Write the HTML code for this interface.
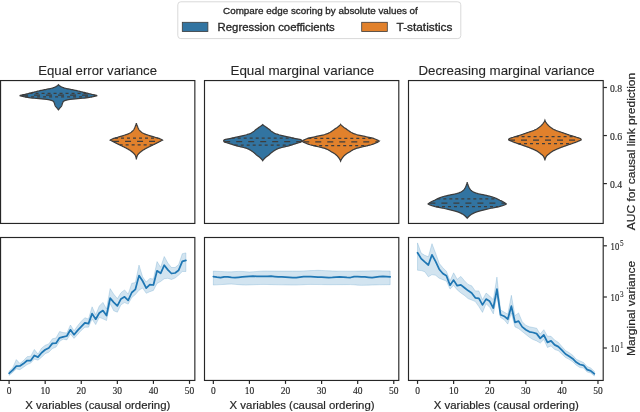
<!DOCTYPE html>
<html><head><meta charset="utf-8"><style>
html,body{margin:0;padding:0;background:#fff;}
svg{display:block;will-change:transform;}
text{font-family:"Liberation Sans",sans-serif;fill:#262626;stroke:#262626;stroke-width:0.3px;}
.tk{font-family:"Liberation Serif",serif;font-size:10.4px;stroke-width:0.15px;}
.sup{font-family:"Liberation Serif",serif;font-size:7.2px;stroke-width:0.1px;}
.ttl{font-size:13px;stroke-width:0.1px;}
.lab{font-size:11.4px;stroke-width:0.2px;}
.lt{font-size:9.5px;}
.ll{font-size:10.5px;}
</style></head><body>
<svg width="640" height="412" viewBox="0 0 640 412">
<path d="M58.44 84.75 L58.61 84.93 L58.79 85.12 L59 85.3 L59.23 85.49 L59.47 85.67 L59.73 85.85 L60 86.04 L60.28 86.22 L60.58 86.41 L60.91 86.59 L61.25 86.77 L61.63 86.96 L62.03 87.14 L62.46 87.32 L62.91 87.51 L63.42 87.69 L63.99 87.88 L64.61 88.06 L65.28 88.24 L66 88.43 L66.77 88.61 L67.66 88.8 L68.61 88.98 L69.56 89.16 L70.47 89.35 L71.39 89.53 L72.32 89.72 L73.24 89.9 L74.15 90.08 L75.05 90.27 L75.91 90.45 L76.74 90.63 L77.54 90.82 L78.32 91 L79.07 91.19 L79.81 91.37 L80.53 91.55 L81.26 91.74 L81.98 91.92 L82.71 92.11 L83.45 92.29 L84.19 92.47 L84.94 92.66 L85.68 92.84 L86.41 93.03 L87.16 93.21 L87.9 93.39 L88.65 93.58 L89.4 93.76 L90.16 93.94 L90.93 94.13 L91.7 94.31 L92.48 94.5 L93.26 94.68 L94.05 94.86 L94.84 95.05 L95.63 95.23 L96.44 95.42 L97.24 95.6 L96.37 95.84 L95.4 96.08 L94.33 96.32 L93.18 96.56 L91.97 96.8 L90.69 97.04 L89.36 97.28 L87.91 97.53 L86.33 97.77 L84.6 98.01 L82.67 98.25 L80.35 98.49 L77.84 98.73 L75.29 98.97 L72.48 99.21 L70.1 99.45 L68.56 99.69 L67.34 99.93 L66.38 100.17 L65.57 100.41 L64.81 100.65 L64.18 100.89 L63.73 101.14 L63.47 101.38 L63.28 101.62 L63.12 101.86 L62.99 102.1 L62.88 102.34 L62.78 102.58 L62.68 102.82 L62.59 103.06 L62.49 103.3 L62.39 103.54 L62.3 103.78 L62.22 104.02 L62.15 104.26 L62.08 104.51 L62 104.75 L61.93 104.99 L61.85 105.23 L61.77 105.47 L61.67 105.71 L61.56 105.95 L61.44 106.19 L61.28 106.43 L61.1 106.67 L60.89 106.91 L60.67 107.15 L60.44 107.39 L60.21 107.63 L59.98 107.87 L59.78 108.12 L59.58 108.36 L59.39 108.6 L59.19 108.84 L59 109.08 L58.81 109.32 L58.63 109.56 L58.44 109.8 L58.44 109.8 L58.25 109.56 L58.07 109.32 L57.88 109.08 L57.69 108.84 L57.49 108.6 L57.3 108.36 L57.1 108.12 L56.9 107.87 L56.67 107.63 L56.44 107.39 L56.21 107.15 L55.99 106.91 L55.78 106.67 L55.6 106.43 L55.44 106.19 L55.32 105.95 L55.21 105.71 L55.11 105.47 L55.03 105.23 L54.95 104.99 L54.88 104.75 L54.8 104.51 L54.73 104.26 L54.66 104.02 L54.58 103.78 L54.49 103.54 L54.39 103.3 L54.29 103.06 L54.2 102.82 L54.1 102.58 L54 102.34 L53.89 102.1 L53.76 101.86 L53.6 101.62 L53.41 101.38 L53.15 101.14 L52.7 100.89 L52.07 100.65 L51.31 100.41 L50.5 100.17 L49.54 99.93 L48.32 99.69 L46.78 99.45 L44.4 99.21 L41.59 98.97 L39.04 98.73 L36.53 98.49 L34.21 98.25 L32.28 98.01 L30.55 97.77 L28.97 97.53 L27.52 97.28 L26.19 97.04 L24.91 96.8 L23.7 96.56 L22.55 96.32 L21.48 96.08 L20.51 95.84 L19.64 95.6 L20.44 95.42 L21.25 95.23 L22.04 95.05 L22.83 94.86 L23.62 94.68 L24.4 94.5 L25.18 94.31 L25.95 94.13 L26.72 93.94 L27.48 93.76 L28.23 93.58 L28.98 93.39 L29.72 93.21 L30.47 93.03 L31.2 92.84 L31.94 92.66 L32.69 92.47 L33.43 92.29 L34.17 92.11 L34.9 91.92 L35.62 91.74 L36.35 91.55 L37.07 91.37 L37.81 91.19 L38.56 91 L39.34 90.82 L40.14 90.63 L40.97 90.45 L41.83 90.27 L42.73 90.08 L43.64 89.9 L44.56 89.72 L45.49 89.53 L46.41 89.35 L47.32 89.16 L48.27 88.98 L49.22 88.8 L50.11 88.61 L50.88 88.43 L51.6 88.24 L52.27 88.06 L52.89 87.88 L53.46 87.69 L53.97 87.51 L54.42 87.32 L54.85 87.14 L55.25 86.96 L55.63 86.77 L55.97 86.59 L56.3 86.41 L56.6 86.22 L56.88 86.04 L57.15 85.85 L57.41 85.67 L57.65 85.49 L57.88 85.3 L58.09 85.12 L58.27 84.93 L58.44 84.75Z" fill="#3274a1" stroke="#3d3d3d" stroke-width="1.25" stroke-linejoin="miter" stroke-miterlimit="3"/>
<line x1="29.56" y1="93.3" x2="87.32" y2="93.3" stroke="#3d3d3d" stroke-width="1.25" stroke-dasharray="3 3"/>
<line x1="22.02" y1="95.1" x2="94.86" y2="95.1" stroke="#3d3d3d" stroke-width="1.25" stroke-dasharray="6 6"/>
<line x1="25.09" y1="96.8" x2="91.79" y2="96.8" stroke="#3d3d3d" stroke-width="1.25" stroke-dasharray="3 3"/>
<path d="M136.37 123.3 L136.46 123.58 L136.55 123.87 L136.64 124.15 L136.74 124.44 L136.84 124.72 L136.94 125.01 L137.05 125.29 L137.16 125.58 L137.27 125.86 L137.38 126.15 L137.5 126.43 L137.62 126.72 L137.74 127 L137.85 127.29 L137.97 127.57 L138.09 127.86 L138.22 128.14 L138.35 128.43 L138.5 128.71 L138.65 128.99 L138.81 129.28 L138.98 129.56 L139.17 129.85 L139.38 130.13 L139.62 130.42 L139.88 130.7 L140.16 130.99 L140.46 131.27 L140.78 131.56 L141.12 131.84 L141.48 132.13 L141.86 132.41 L142.29 132.7 L142.77 132.98 L143.29 133.27 L143.86 133.55 L144.47 133.84 L145.18 134.12 L145.96 134.41 L146.79 134.69 L147.66 134.97 L148.54 135.26 L149.4 135.54 L150.27 135.83 L151.17 136.11 L152.08 136.4 L153 136.68 L153.94 136.97 L154.89 137.25 L155.91 137.54 L156.96 137.82 L157.98 138.11 L158.89 138.39 L159.66 138.68 L160.35 138.96 L160.98 139.25 L161.55 139.53 L162.05 139.82 L162.47 140.1 L161.84 140.43 L161.21 140.76 L160.58 141.09 L159.95 141.42 L159.31 141.75 L158.67 142.08 L158.03 142.41 L157.38 142.74 L156.73 143.07 L156.07 143.41 L155.42 143.74 L154.75 144.07 L154.09 144.4 L153.42 144.73 L152.76 145.06 L152.09 145.39 L151.43 145.72 L150.76 146.05 L150.09 146.38 L149.41 146.71 L148.72 147.04 L148.05 147.37 L147.38 147.7 L146.73 148.03 L146.11 148.36 L145.5 148.69 L144.91 149.02 L144.34 149.35 L143.78 149.68 L143.25 150.02 L142.75 150.35 L142.28 150.68 L141.82 151.01 L141.38 151.34 L140.96 151.67 L140.55 152 L140.17 152.33 L139.81 152.66 L139.46 152.99 L139.11 153.32 L138.76 153.65 L138.43 153.98 L138.13 154.31 L137.86 154.64 L137.64 154.97 L137.47 155.3 L137.33 155.63 L137.2 155.96 L137.08 156.29 L136.96 156.63 L136.85 156.96 L136.74 157.29 L136.65 157.62 L136.57 157.95 L136.5 158.28 L136.45 158.61 L136.4 158.94 L136.38 159.27 L136.37 159.6 L136.37 159.6 L136.36 159.27 L136.34 158.94 L136.29 158.61 L136.24 158.28 L136.17 157.95 L136.09 157.62 L136 157.29 L135.89 156.96 L135.78 156.63 L135.66 156.29 L135.54 155.96 L135.41 155.63 L135.27 155.3 L135.1 154.97 L134.88 154.64 L134.61 154.31 L134.31 153.98 L133.98 153.65 L133.63 153.32 L133.28 152.99 L132.93 152.66 L132.57 152.33 L132.19 152 L131.78 151.67 L131.36 151.34 L130.92 151.01 L130.46 150.68 L129.99 150.35 L129.49 150.02 L128.96 149.68 L128.4 149.35 L127.83 149.02 L127.24 148.69 L126.63 148.36 L126.01 148.03 L125.36 147.7 L124.69 147.37 L124.02 147.04 L123.33 146.71 L122.65 146.38 L121.98 146.05 L121.31 145.72 L120.65 145.39 L119.98 145.06 L119.32 144.73 L118.65 144.4 L117.99 144.07 L117.32 143.74 L116.67 143.41 L116.01 143.07 L115.36 142.74 L114.71 142.41 L114.07 142.08 L113.43 141.75 L112.79 141.42 L112.16 141.09 L111.53 140.76 L110.9 140.43 L110.27 140.1 L110.69 139.82 L111.19 139.53 L111.76 139.25 L112.39 138.96 L113.08 138.68 L113.85 138.39 L114.76 138.11 L115.78 137.82 L116.83 137.54 L117.85 137.25 L118.8 136.97 L119.74 136.68 L120.66 136.4 L121.57 136.11 L122.47 135.83 L123.34 135.54 L124.2 135.26 L125.08 134.97 L125.95 134.69 L126.78 134.41 L127.56 134.12 L128.27 133.84 L128.88 133.55 L129.45 133.27 L129.97 132.98 L130.45 132.7 L130.88 132.41 L131.26 132.13 L131.62 131.84 L131.96 131.56 L132.28 131.27 L132.58 130.99 L132.86 130.7 L133.12 130.42 L133.36 130.13 L133.57 129.85 L133.76 129.56 L133.93 129.28 L134.09 128.99 L134.24 128.71 L134.39 128.43 L134.52 128.14 L134.65 127.86 L134.77 127.57 L134.89 127.29 L135 127 L135.12 126.72 L135.24 126.43 L135.36 126.15 L135.47 125.86 L135.58 125.58 L135.69 125.29 L135.8 125.01 L135.9 124.72 L136 124.44 L136.1 124.15 L136.19 123.87 L136.28 123.58 L136.37 123.3Z" fill="#e1812c" stroke="#3d3d3d" stroke-width="1.25" stroke-linejoin="miter" stroke-miterlimit="3"/>
<line x1="114.99" y1="138.1" x2="157.75" y2="138.1" stroke="#3d3d3d" stroke-width="1.25" stroke-dasharray="3 3"/>
<line x1="113.05" y1="141.45" x2="159.69" y2="141.45" stroke="#3d3d3d" stroke-width="1.25" stroke-dasharray="6 6"/>
<line x1="119.66" y1="144.8" x2="153.08" y2="144.8" stroke="#3d3d3d" stroke-width="1.25" stroke-dasharray="3 3"/>
<path d="M262.7 124.6 L263.04 124.87 L263.39 125.15 L263.74 125.42 L264.09 125.69 L264.45 125.97 L264.82 126.24 L265.19 126.52 L265.56 126.79 L265.95 127.06 L266.35 127.34 L266.75 127.61 L267.16 127.88 L267.56 128.16 L267.96 128.43 L268.34 128.71 L268.7 128.98 L269.05 129.25 L269.39 129.53 L269.71 129.8 L270.02 130.07 L270.34 130.35 L270.67 130.62 L271 130.9 L271.35 131.17 L271.72 131.44 L272.11 131.72 L272.5 131.99 L272.9 132.26 L273.32 132.54 L273.77 132.81 L274.26 133.09 L274.8 133.36 L275.41 133.63 L276.15 133.91 L277 134.18 L277.9 134.45 L278.85 134.73 L279.89 135 L280.99 135.28 L282.1 135.55 L283.21 135.82 L284.33 136.1 L285.48 136.37 L286.64 136.64 L287.84 136.92 L289.07 137.19 L290.37 137.47 L291.7 137.74 L293.02 138.01 L294.29 138.29 L295.55 138.56 L296.95 138.83 L298.39 139.11 L299.7 139.38 L300.73 139.66 L301.33 139.93 L301.53 140.2 L301.65 140.48 L301.7 140.75 L301.64 141.09 L301.5 141.42 L301.26 141.76 L300.69 142.1 L299.81 142.44 L298.72 142.77 L297.52 143.11 L296.3 143.45 L295.15 143.79 L294.14 144.12 L293.14 144.46 L292.14 144.8 L291.11 145.13 L290.03 145.47 L288.89 145.81 L287.64 146.15 L286.18 146.48 L284.63 146.82 L283.09 147.16 L281.72 147.5 L280.49 147.83 L279.35 148.17 L278.38 148.51 L277.56 148.84 L276.82 149.18 L276.14 149.52 L275.52 149.86 L274.94 150.19 L274.39 150.53 L273.88 150.87 L273.39 151.21 L272.92 151.54 L272.47 151.88 L272.03 152.22 L271.6 152.56 L271.2 152.89 L270.81 153.23 L270.44 153.57 L270.07 153.9 L269.7 154.24 L269.33 154.58 L268.94 154.92 L268.53 155.25 L268.1 155.59 L267.63 155.93 L267.16 156.27 L266.69 156.6 L266.22 156.94 L265.79 157.28 L265.39 157.61 L265.04 157.95 L264.69 158.29 L264.36 158.63 L264.04 158.96 L263.73 159.3 L263.45 159.64 L263.18 159.98 L262.93 160.31 L262.7 160.65 L262.7 160.65 L262.47 160.31 L262.22 159.98 L261.95 159.64 L261.67 159.3 L261.36 158.96 L261.04 158.63 L260.71 158.29 L260.36 157.95 L260.01 157.61 L259.61 157.28 L259.18 156.94 L258.71 156.6 L258.24 156.27 L257.77 155.93 L257.3 155.59 L256.87 155.25 L256.46 154.92 L256.07 154.58 L255.7 154.24 L255.33 153.9 L254.96 153.57 L254.59 153.23 L254.2 152.89 L253.8 152.56 L253.37 152.22 L252.93 151.88 L252.48 151.54 L252.01 151.21 L251.52 150.87 L251.01 150.53 L250.46 150.19 L249.88 149.86 L249.26 149.52 L248.58 149.18 L247.84 148.84 L247.02 148.51 L246.05 148.17 L244.91 147.83 L243.68 147.5 L242.31 147.16 L240.77 146.82 L239.22 146.48 L237.76 146.15 L236.51 145.81 L235.37 145.47 L234.29 145.13 L233.26 144.8 L232.26 144.46 L231.26 144.12 L230.25 143.79 L229.1 143.45 L227.88 143.11 L226.68 142.77 L225.59 142.44 L224.71 142.1 L224.14 141.76 L223.9 141.42 L223.76 141.09 L223.7 140.75 L223.75 140.48 L223.87 140.2 L224.07 139.93 L224.67 139.66 L225.7 139.38 L227.01 139.11 L228.45 138.83 L229.85 138.56 L231.11 138.29 L232.38 138.01 L233.7 137.74 L235.03 137.47 L236.33 137.19 L237.56 136.92 L238.76 136.64 L239.92 136.37 L241.07 136.1 L242.19 135.82 L243.3 135.55 L244.41 135.28 L245.51 135 L246.55 134.73 L247.5 134.45 L248.4 134.18 L249.25 133.91 L249.99 133.63 L250.6 133.36 L251.14 133.09 L251.63 132.81 L252.08 132.54 L252.5 132.26 L252.9 131.99 L253.29 131.72 L253.68 131.44 L254.05 131.17 L254.4 130.9 L254.73 130.62 L255.06 130.35 L255.38 130.07 L255.69 129.8 L256.01 129.53 L256.35 129.25 L256.7 128.98 L257.06 128.71 L257.44 128.43 L257.84 128.16 L258.24 127.88 L258.65 127.61 L259.05 127.34 L259.45 127.06 L259.84 126.79 L260.21 126.52 L260.58 126.24 L260.95 125.97 L261.31 125.69 L261.66 125.42 L262.01 125.15 L262.36 124.87 L262.7 124.6Z" fill="#3274a1" stroke="#3d3d3d" stroke-width="1.25" stroke-linejoin="miter" stroke-miterlimit="3"/>
<line x1="231.7" y1="138.2" x2="293.7" y2="138.2" stroke="#3d3d3d" stroke-width="1.25" stroke-dasharray="3 3"/>
<line x1="224.2" y1="141.6" x2="301.2" y2="141.6" stroke="#3d3d3d" stroke-width="1.25" stroke-dasharray="6 6"/>
<line x1="234.7" y1="145.2" x2="290.7" y2="145.2" stroke="#3d3d3d" stroke-width="1.25" stroke-dasharray="3 3"/>
<path d="M340.6 124.3 L340.84 124.58 L341.1 124.87 L341.37 125.15 L341.65 125.43 L341.95 125.72 L342.26 126 L342.57 126.28 L342.9 126.56 L343.24 126.85 L343.59 127.13 L343.97 127.41 L344.37 127.7 L344.79 127.98 L345.21 128.26 L345.64 128.55 L346.06 128.83 L346.47 129.11 L346.87 129.39 L347.26 129.68 L347.63 129.96 L348.01 130.24 L348.39 130.53 L348.78 130.81 L349.18 131.09 L349.61 131.38 L350.05 131.66 L350.52 131.94 L351 132.23 L351.5 132.51 L352.04 132.79 L352.61 133.07 L353.23 133.36 L353.9 133.64 L354.65 133.92 L355.47 134.21 L356.37 134.49 L357.42 134.77 L358.63 135.06 L359.87 135.34 L361.1 135.62 L362.37 135.91 L363.65 136.19 L364.94 136.47 L366.22 136.75 L367.56 137.04 L368.97 137.32 L370.36 137.6 L371.63 137.89 L372.7 138.17 L373.57 138.45 L374.34 138.74 L375.05 139.02 L375.69 139.3 L376.3 139.58 L376.9 139.87 L377.49 140.15 L378.1 140.43 L378.74 140.72 L379.4 141 L379 141.34 L378.51 141.68 L377.93 142.02 L377.28 142.36 L376.56 142.69 L375.79 143.03 L374.96 143.37 L374.1 143.71 L373.2 144.05 L372.25 144.39 L371.15 144.73 L369.91 145.07 L368.58 145.41 L367.22 145.75 L365.86 146.08 L364.41 146.42 L362.89 146.76 L361.37 147.1 L359.94 147.44 L358.59 147.78 L357.31 148.12 L356.23 148.46 L355.32 148.8 L354.5 149.14 L353.76 149.47 L353.07 149.81 L352.44 150.15 L351.87 150.49 L351.33 150.83 L350.8 151.17 L350.27 151.51 L349.72 151.85 L349.13 152.19 L348.53 152.53 L347.92 152.86 L347.35 153.2 L346.82 153.54 L346.36 153.88 L345.92 154.22 L345.49 154.56 L345.09 154.9 L344.71 155.24 L344.34 155.58 L344 155.92 L343.68 156.25 L343.39 156.59 L343.11 156.93 L342.84 157.27 L342.58 157.61 L342.33 157.95 L342.08 158.29 L341.85 158.63 L341.63 158.97 L341.42 159.31 L341.22 159.64 L341.04 159.98 L340.88 160.32 L340.73 160.66 L340.6 161 L340.6 161 L340.47 160.66 L340.32 160.32 L340.16 159.98 L339.98 159.64 L339.78 159.31 L339.57 158.97 L339.35 158.63 L339.12 158.29 L338.87 157.95 L338.62 157.61 L338.36 157.27 L338.09 156.93 L337.81 156.59 L337.52 156.25 L337.2 155.92 L336.86 155.58 L336.49 155.24 L336.11 154.9 L335.71 154.56 L335.28 154.22 L334.84 153.88 L334.38 153.54 L333.85 153.2 L333.28 152.86 L332.67 152.53 L332.07 152.19 L331.48 151.85 L330.93 151.51 L330.4 151.17 L329.87 150.83 L329.33 150.49 L328.76 150.15 L328.13 149.81 L327.44 149.47 L326.7 149.14 L325.88 148.8 L324.97 148.46 L323.89 148.12 L322.61 147.78 L321.26 147.44 L319.83 147.1 L318.31 146.76 L316.79 146.42 L315.34 146.08 L313.98 145.75 L312.62 145.41 L311.29 145.07 L310.05 144.73 L308.95 144.39 L308 144.05 L307.1 143.71 L306.24 143.37 L305.41 143.03 L304.64 142.69 L303.92 142.36 L303.27 142.02 L302.69 141.68 L302.2 141.34 L301.8 141 L302.46 140.72 L303.1 140.43 L303.71 140.15 L304.3 139.87 L304.9 139.58 L305.51 139.3 L306.15 139.02 L306.86 138.74 L307.63 138.45 L308.5 138.17 L309.57 137.89 L310.84 137.6 L312.23 137.32 L313.64 137.04 L314.98 136.75 L316.26 136.47 L317.55 136.19 L318.83 135.91 L320.1 135.62 L321.33 135.34 L322.57 135.06 L323.78 134.77 L324.83 134.49 L325.73 134.21 L326.55 133.92 L327.3 133.64 L327.97 133.36 L328.59 133.07 L329.16 132.79 L329.7 132.51 L330.2 132.23 L330.68 131.94 L331.15 131.66 L331.59 131.38 L332.02 131.09 L332.42 130.81 L332.81 130.53 L333.19 130.24 L333.57 129.96 L333.94 129.68 L334.33 129.39 L334.73 129.11 L335.14 128.83 L335.56 128.55 L335.99 128.26 L336.41 127.98 L336.83 127.7 L337.23 127.41 L337.61 127.13 L337.96 126.85 L338.3 126.56 L338.63 126.28 L338.94 126 L339.25 125.72 L339.55 125.43 L339.83 125.15 L340.1 124.87 L340.36 124.58 L340.6 124.3Z" fill="#e1812c" stroke="#3d3d3d" stroke-width="1.25" stroke-linejoin="miter" stroke-miterlimit="3"/>
<line x1="308.29" y1="138.3" x2="372.91" y2="138.3" stroke="#3d3d3d" stroke-width="1.25" stroke-dasharray="3 3"/>
<line x1="303.26" y1="141.9" x2="377.94" y2="141.9" stroke="#3d3d3d" stroke-width="1.25" stroke-dasharray="6 6"/>
<line x1="313.19" y1="145.5" x2="368.01" y2="145.5" stroke="#3d3d3d" stroke-width="1.25" stroke-dasharray="3 3"/>
<path d="M467.2 182.1 L467.28 182.47 L467.37 182.84 L467.47 183.21 L467.58 183.58 L467.69 183.95 L467.81 184.32 L467.94 184.69 L468.08 185.06 L468.21 185.43 L468.36 185.79 L468.51 186.16 L468.66 186.53 L468.83 186.9 L469 187.27 L469.19 187.64 L469.38 188.01 L469.6 188.38 L469.83 188.75 L470.07 189.12 L470.34 189.49 L470.65 189.86 L471 190.23 L471.4 190.6 L471.86 190.97 L472.39 191.34 L473.02 191.71 L473.75 192.08 L474.57 192.45 L475.47 192.82 L476.55 193.18 L477.82 193.55 L479.26 193.92 L481.02 194.29 L482.96 194.66 L484.84 195.03 L486.46 195.4 L488 195.77 L489.47 196.14 L490.85 196.51 L492.11 196.88 L493.26 197.25 L494.31 197.62 L495.27 197.99 L496.15 198.36 L496.93 198.73 L497.66 199.1 L498.36 199.47 L499.07 199.84 L499.82 200.21 L500.61 200.57 L501.41 200.94 L502.19 201.31 L502.93 201.68 L503.59 202.05 L504.2 202.42 L504.77 202.79 L505.3 203.16 L505.8 203.53 L506.25 203.9 L505.93 204.14 L505.52 204.38 L505.03 204.63 L504.47 204.87 L503.85 205.11 L503.16 205.35 L502.43 205.6 L501.66 205.84 L500.85 206.08 L500.02 206.32 L499.16 206.57 L498.12 206.81 L496.91 207.05 L495.61 207.29 L494.3 207.54 L493.07 207.78 L491.97 208.02 L490.94 208.26 L489.94 208.51 L488.97 208.75 L488.02 208.99 L487.06 209.23 L486.1 209.47 L485.12 209.72 L484.12 209.96 L483.1 210.2 L482.08 210.44 L481.09 210.69 L480.12 210.93 L479.21 211.17 L478.35 211.41 L477.52 211.66 L476.73 211.9 L476 212.14 L475.34 212.38 L474.76 212.63 L474.21 212.87 L473.7 213.11 L473.21 213.35 L472.76 213.59 L472.34 213.84 L471.93 214.08 L471.55 214.32 L471.18 214.56 L470.84 214.81 L470.5 215.05 L470.18 215.29 L469.88 215.53 L469.59 215.78 L469.3 216.02 L469.03 216.26 L468.77 216.5 L468.52 216.75 L468.27 216.99 L468.03 217.23 L467.81 217.47 L467.59 217.72 L467.39 217.96 L467.2 218.2 L467.2 218.2 L467.01 217.96 L466.81 217.72 L466.59 217.47 L466.37 217.23 L466.13 216.99 L465.88 216.75 L465.63 216.5 L465.37 216.26 L465.1 216.02 L464.81 215.78 L464.52 215.53 L464.22 215.29 L463.9 215.05 L463.56 214.81 L463.22 214.56 L462.85 214.32 L462.47 214.08 L462.06 213.84 L461.64 213.59 L461.19 213.35 L460.7 213.11 L460.19 212.87 L459.64 212.63 L459.06 212.38 L458.4 212.14 L457.67 211.9 L456.88 211.66 L456.05 211.41 L455.19 211.17 L454.28 210.93 L453.31 210.69 L452.32 210.44 L451.3 210.2 L450.28 209.96 L449.28 209.72 L448.3 209.47 L447.34 209.23 L446.38 208.99 L445.43 208.75 L444.46 208.51 L443.46 208.26 L442.43 208.02 L441.33 207.78 L440.1 207.54 L438.79 207.29 L437.49 207.05 L436.28 206.81 L435.24 206.57 L434.38 206.32 L433.55 206.08 L432.74 205.84 L431.97 205.6 L431.24 205.35 L430.55 205.11 L429.93 204.87 L429.37 204.63 L428.88 204.38 L428.47 204.14 L428.15 203.9 L428.6 203.53 L429.1 203.16 L429.63 202.79 L430.2 202.42 L430.81 202.05 L431.47 201.68 L432.21 201.31 L432.99 200.94 L433.79 200.57 L434.58 200.21 L435.33 199.84 L436.04 199.47 L436.74 199.1 L437.47 198.73 L438.25 198.36 L439.13 197.99 L440.09 197.62 L441.14 197.25 L442.29 196.88 L443.55 196.51 L444.93 196.14 L446.4 195.77 L447.94 195.4 L449.56 195.03 L451.44 194.66 L453.38 194.29 L455.14 193.92 L456.58 193.55 L457.85 193.18 L458.93 192.82 L459.83 192.45 L460.65 192.08 L461.38 191.71 L462.01 191.34 L462.54 190.97 L463 190.6 L463.4 190.23 L463.75 189.86 L464.06 189.49 L464.33 189.12 L464.57 188.75 L464.8 188.38 L465.02 188.01 L465.21 187.64 L465.4 187.27 L465.57 186.9 L465.74 186.53 L465.89 186.16 L466.04 185.79 L466.19 185.43 L466.32 185.06 L466.46 184.69 L466.59 184.32 L466.71 183.95 L466.82 183.58 L466.93 183.21 L467.03 182.84 L467.12 182.47 L467.2 182.1Z" fill="#3274a1" stroke="#3d3d3d" stroke-width="1.25" stroke-linejoin="miter" stroke-miterlimit="3"/>
<line x1="437.32" y1="198.9" x2="497.08" y2="198.9" stroke="#3d3d3d" stroke-width="1.25" stroke-dasharray="3 3"/>
<line x1="429.38" y1="203.1" x2="505.02" y2="203.1" stroke="#3d3d3d" stroke-width="1.25" stroke-dasharray="6 6"/>
<line x1="435.99" y1="206.7" x2="498.41" y2="206.7" stroke="#3d3d3d" stroke-width="1.25" stroke-dasharray="3 3"/>
<path d="M544.9 120.3 L545.03 120.63 L545.18 120.96 L545.35 121.3 L545.52 121.63 L545.71 121.96 L545.91 122.29 L546.12 122.63 L546.34 122.96 L546.57 123.29 L546.82 123.62 L547.09 123.95 L547.37 124.29 L547.67 124.62 L547.98 124.95 L548.31 125.28 L548.64 125.62 L548.99 125.95 L549.35 126.28 L549.73 126.61 L550.12 126.94 L550.54 127.28 L550.99 127.61 L551.46 127.94 L551.96 128.27 L552.48 128.61 L553.03 128.94 L553.62 129.27 L554.26 129.6 L554.95 129.93 L555.68 130.27 L556.46 130.6 L557.32 130.93 L558.25 131.26 L559.23 131.59 L560.23 131.93 L561.24 132.26 L562.24 132.59 L563.2 132.92 L564.14 133.26 L565.08 133.59 L566.02 133.92 L566.97 134.25 L567.95 134.58 L568.94 134.92 L569.99 135.25 L571.11 135.58 L572.25 135.91 L573.4 136.25 L574.5 136.58 L575.54 136.91 L576.53 137.24 L577.6 137.57 L578.65 137.91 L579.61 138.24 L580.36 138.57 L580.83 138.9 L581.02 139.24 L581.15 139.57 L581.2 139.9 L580.49 140.25 L579.74 140.59 L578.96 140.94 L578.16 141.29 L577.33 141.64 L576.47 141.98 L575.59 142.33 L574.66 142.68 L573.67 143.03 L572.66 143.37 L571.63 143.72 L570.6 144.07 L569.58 144.42 L568.59 144.76 L567.59 145.11 L566.59 145.46 L565.59 145.81 L564.6 146.15 L563.64 146.5 L562.7 146.85 L561.78 147.2 L560.88 147.54 L559.98 147.89 L559.1 148.24 L558.24 148.59 L557.41 148.93 L556.6 149.28 L555.81 149.63 L555.04 149.98 L554.29 150.32 L553.58 150.67 L552.94 151.02 L552.37 151.37 L551.83 151.71 L551.33 152.06 L550.86 152.41 L550.41 152.76 L549.97 153.1 L549.54 153.45 L549.1 153.8 L548.65 154.15 L548.2 154.49 L547.76 154.84 L547.35 155.19 L546.98 155.54 L546.66 155.88 L546.4 156.23 L546.2 156.58 L546.02 156.93 L545.84 157.27 L545.67 157.62 L545.51 157.97 L545.36 158.32 L545.23 158.66 L545.12 159.01 L545.03 159.36 L544.96 159.71 L544.91 160.05 L544.9 160.4 L544.9 160.4 L544.89 160.05 L544.84 159.71 L544.77 159.36 L544.68 159.01 L544.57 158.66 L544.44 158.32 L544.29 157.97 L544.13 157.62 L543.96 157.27 L543.78 156.93 L543.6 156.58 L543.4 156.23 L543.14 155.88 L542.82 155.54 L542.45 155.19 L542.04 154.84 L541.6 154.49 L541.15 154.15 L540.7 153.8 L540.26 153.45 L539.83 153.1 L539.39 152.76 L538.94 152.41 L538.47 152.06 L537.97 151.71 L537.43 151.37 L536.86 151.02 L536.22 150.67 L535.51 150.32 L534.76 149.98 L533.99 149.63 L533.2 149.28 L532.39 148.93 L531.56 148.59 L530.7 148.24 L529.82 147.89 L528.92 147.54 L528.02 147.2 L527.1 146.85 L526.16 146.5 L525.2 146.15 L524.21 145.81 L523.21 145.46 L522.21 145.11 L521.21 144.76 L520.22 144.42 L519.2 144.07 L518.17 143.72 L517.14 143.37 L516.13 143.03 L515.14 142.68 L514.21 142.33 L513.33 141.98 L512.47 141.64 L511.64 141.29 L510.84 140.94 L510.06 140.59 L509.31 140.25 L508.6 139.9 L508.65 139.57 L508.78 139.24 L508.97 138.9 L509.44 138.57 L510.19 138.24 L511.15 137.91 L512.2 137.57 L513.27 137.24 L514.26 136.91 L515.3 136.58 L516.4 136.25 L517.55 135.91 L518.69 135.58 L519.81 135.25 L520.86 134.92 L521.85 134.58 L522.83 134.25 L523.78 133.92 L524.72 133.59 L525.66 133.26 L526.6 132.92 L527.56 132.59 L528.56 132.26 L529.57 131.93 L530.57 131.59 L531.55 131.26 L532.48 130.93 L533.34 130.6 L534.12 130.27 L534.85 129.93 L535.54 129.6 L536.18 129.27 L536.77 128.94 L537.32 128.61 L537.84 128.27 L538.34 127.94 L538.81 127.61 L539.26 127.28 L539.68 126.94 L540.07 126.61 L540.45 126.28 L540.81 125.95 L541.16 125.62 L541.49 125.28 L541.82 124.95 L542.13 124.62 L542.43 124.29 L542.71 123.95 L542.98 123.62 L543.23 123.29 L543.46 122.96 L543.68 122.63 L543.89 122.29 L544.09 121.96 L544.28 121.63 L544.45 121.3 L544.62 120.96 L544.77 120.63 L544.9 120.3Z" fill="#e1812c" stroke="#3d3d3d" stroke-width="1.25" stroke-linejoin="miter" stroke-miterlimit="3"/>
<line x1="515.59" y1="136.55" x2="574.21" y2="136.55" stroke="#3d3d3d" stroke-width="1.25" stroke-dasharray="3 3"/>
<line x1="509" y1="140" x2="580.8" y2="140" stroke="#3d3d3d" stroke-width="1.25" stroke-dasharray="6 6"/>
<line x1="518.01" y1="143.6" x2="571.79" y2="143.6" stroke="#3d3d3d" stroke-width="1.25" stroke-dasharray="3 3"/>
<path d="M9.09 371.1 L12.7 367.9 L16.31 359.6 L19.92 363.5 L23.53 360.6 L27.13 356.7 L30.74 356.2 L34.35 349.4 L37.96 354.1 L41.57 348.2 L45.18 345.3 L48.78 343.9 L52.39 338.8 L56 338 L59.61 331.5 L63.22 332.6 L66.83 333 L70.44 325 L74.04 330.8 L77.65 325.7 L81.26 321.3 L84.87 317.7 L88.48 319.1 L92.09 306.8 L95.7 314.8 L99.3 306 L102.91 302.4 L106.52 309 L110.13 288.6 L113.74 294.2 L117.35 298.6 L120.96 292.8 L124.56 289.9 L128.17 294.2 L131.78 283.3 L135.39 282.6 L139 265.1 L142.61 276.8 L146.22 282.1 L149.82 278.4 L153.43 279.1 L157.04 261.6 L160.65 267.3 L164.26 256.5 L167.87 263.1 L171.47 267.5 L175.08 267.5 L178.69 264.6 L182.3 253.7 L185.91 252.9 L185.91 271.5 L182.3 271.5 L178.69 275.1 L175.08 278 L171.47 279.5 L167.87 278.3 L164.26 278.7 L160.65 281.5 L157.04 283.4 L153.43 290.4 L149.82 291.7 L146.22 293.3 L142.61 288 L139 290.2 L135.39 294.6 L131.78 297.5 L128.17 304.1 L124.56 302.6 L120.96 304.8 L117.35 312.2 L113.74 310.8 L110.13 303.5 L106.52 320.5 L102.91 318.8 L99.3 317.3 L95.7 324.6 L92.09 319.1 L88.48 327.2 L84.87 327.2 L81.26 330.4 L77.65 334.5 L74.04 338.4 L70.44 334.1 L66.83 339.9 L63.22 339.2 L59.61 341.3 L56 347.1 L52.39 348.6 L48.78 352.2 L45.18 353.7 L41.57 357.3 L37.96 360.2 L34.35 359.1 L30.74 363.1 L27.13 364.6 L23.53 367.2 L19.92 369.7 L16.31 368.9 L12.7 372.4 L9.09 375.4Z" fill="#1f77b4" fill-opacity="0.2" stroke="#1f77b4" stroke-opacity="0.2" stroke-width="1"/>
<path d="M9.09 373.3 L12.7 370.2 L16.31 366.2 L19.92 366 L23.53 363.6 L27.13 360.5 L30.74 360.5 L34.35 355.5 L37.96 357.1 L41.57 352.7 L45.18 349.8 L48.78 348 L52.39 343.4 L56 343.2 L59.61 337.8 L63.22 336.8 L66.83 336 L70.44 329.8 L74.04 334.7 L77.65 330.4 L81.26 326.7 L84.87 322.9 L88.48 323.6 L92.09 313.6 L95.7 319.2 L99.3 313 L102.91 310.6 L106.52 315.5 L110.13 298.2 L113.74 302.3 L117.35 305.8 L120.96 298.9 L124.56 296.8 L128.17 300.3 L131.78 292.5 L135.39 289.3 L139 275.6 L142.61 281 L146.22 288.2 L149.82 284.7 L153.43 285 L157.04 270.8 L160.65 273.3 L164.26 265.2 L167.87 269.9 L171.47 273.5 L175.08 273 L178.69 270.2 L182.3 261.4 L185.91 260.4" fill="none" stroke="#1f77b4" stroke-width="1.75" stroke-linejoin="round" stroke-linecap="round"/>
<path d="M213.34 271.12 L216.95 271.29 L220.56 271.46 L224.17 271.63 L227.78 271.8 L231.38 271.82 L234.99 271.6 L238.6 271.38 L242.21 271.45 L245.82 271.71 L249.43 271.96 L253.03 271.77 L256.64 271.49 L260.25 271.21 L263.86 271.01 L267.47 271.03 L271.08 271.05 L274.69 271.07 L278.29 271.09 L281.9 271.1 L285.51 271.1 L289.12 271.1 L292.73 271.1 L296.34 271.1 L299.95 271.1 L303.55 270.94 L307.16 270.78 L310.77 270.62 L314.38 270.46 L317.99 270.3 L321.6 270.47 L325.21 270.64 L328.81 270.81 L332.42 270.98 L336.03 271.11 L339.64 271.13 L343.25 271.15 L346.86 271.17 L350.47 271.19 L354.07 271.16 L357.68 271.1 L361.29 271.04 L364.9 270.98 L368.51 270.91 L372.12 270.85 L375.72 270.81 L379.33 270.86 L382.94 270.91 L386.55 270.95 L390.16 271 L390.16 284.7 L386.55 284.73 L382.94 284.77 L379.33 284.82 L375.72 284.93 L372.12 285.04 L368.51 285.14 L364.9 285.25 L361.29 285.36 L357.68 285.17 L354.07 284.81 L350.47 284.61 L346.86 284.64 L343.25 284.66 L339.64 284.68 L336.03 284.71 L332.42 284.73 L328.81 284.73 L325.21 284.67 L321.6 284.6 L317.99 284.54 L314.38 284.48 L310.77 284.41 L307.16 284.53 L303.55 284.7 L299.95 284.87 L296.34 285.04 L292.73 285.06 L289.12 285 L285.51 284.93 L281.9 284.87 L278.29 284.81 L274.69 284.74 L271.08 284.64 L267.47 284.53 L263.86 284.43 L260.25 284.51 L256.64 284.65 L253.03 284.79 L249.43 284.93 L245.82 285.07 L242.21 284.9 L238.6 284.63 L234.99 284.37 L231.38 284.1 L227.78 284.14 L224.17 284.38 L220.56 284.61 L216.95 284.84 L213.34 285.08Z" fill="#1f77b4" fill-opacity="0.2" stroke="#1f77b4" stroke-opacity="0.2" stroke-width="1"/>
<path d="M213.34 276.54 L216.95 277.1 L220.56 277.53 L224.17 276.79 L227.78 276.8 L231.38 277.31 L234.99 277.63 L238.6 277.29 L242.21 276.95 L245.82 276.69 L249.43 276.45 L253.03 276.2 L256.64 276.31 L260.25 276.42 L263.86 276.46 L267.47 276.32 L271.08 276.24 L274.69 276.51 L278.29 276.79 L281.9 276.99 L285.51 277.18 L289.12 277.37 L292.73 277.55 L296.34 277.59 L299.95 277.07 L303.55 276.55 L307.16 276.61 L310.77 276.73 L314.38 276.86 L317.99 277.02 L321.6 277.2 L325.21 277.38 L328.81 277.56 L332.42 277.4 L336.03 277.12 L339.64 276.95 L343.25 277.22 L346.86 277.49 L350.47 277.5 L354.07 276.58 L357.68 276.63 L361.29 276.77 L364.9 276.94 L368.51 277.26 L372.12 277.58 L375.72 277.09 L379.33 276.55 L382.94 276.3 L386.55 276.59 L390.16 276.89" fill="none" stroke="#1f77b4" stroke-width="1.75" stroke-linejoin="round" stroke-linecap="round"/>
<path d="M417.54 242.9 L421.15 253.1 L424.76 255.3 L428.37 256.8 L431.98 243.7 L435.58 253.1 L439.19 263.3 L442.8 267.7 L446.41 271.3 L450.02 280.8 L453.63 272.8 L457.23 279.3 L460.84 276.4 L464.45 280.7 L468.06 284.4 L471.67 285.8 L475.28 290.9 L478.89 290.9 L482.49 299.7 L486.1 293.1 L489.71 296 L493.32 299.7 L496.93 277.1 L500.54 309.9 L504.15 312.1 L507.75 314.2 L511.36 295.3 L514.97 315.7 L518.58 312.9 L522.19 321.7 L525.8 325.3 L529.41 326.8 L533.01 327.5 L536.62 328.2 L540.23 334.1 L543.84 329.7 L547.45 336.2 L551.06 336.29 L554.67 340.08 L558.27 342.37 L561.88 346.46 L565.49 350.55 L569.1 352.64 L572.71 355.23 L576.32 359.32 L579.92 360.91 L583.53 362.5 L587.14 366.5 L590.75 368 L594.36 371.5 L594.36 376 L590.75 373 L587.14 372 L583.53 368 L579.92 367.59 L576.32 365.18 L572.71 361.77 L569.1 359.36 L565.49 357.45 L561.88 354.04 L558.27 350.63 L554.67 349.52 L551.06 345.91 L547.45 347.5 L543.84 339.5 L540.23 343.1 L536.62 340.9 L533.01 339.5 L529.41 337.3 L525.8 334.4 L522.19 331.5 L518.58 328.6 L514.97 326.9 L511.36 313.1 L507.75 324.1 L504.15 319.7 L500.54 317.5 L496.93 295.7 L493.32 313.9 L489.71 307.3 L486.1 303.7 L482.49 312.4 L478.89 306.6 L475.28 301.5 L471.67 300 L468.06 298.6 L464.45 295.4 L460.84 292.9 L457.23 289.9 L453.63 285.5 L450.02 289.1 L446.41 281.1 L442.8 279.7 L439.19 278.2 L435.58 275.3 L431.98 274.6 L428.37 276.8 L424.76 271.7 L421.15 270.6 L417.54 270.2Z" fill="#1f77b4" fill-opacity="0.2" stroke="#1f77b4" stroke-opacity="0.2" stroke-width="1"/>
<path d="M417.54 252.7 L421.15 258.6 L424.76 261.9 L428.37 265 L431.98 254.8 L435.58 261.4 L439.19 269.2 L442.8 273.5 L446.41 275.8 L450.02 285.2 L453.63 280.1 L457.23 285.7 L460.84 284.9 L464.45 287.8 L468.06 290.6 L471.67 293 L475.28 297.8 L478.89 298.4 L482.49 304.9 L486.1 299.1 L489.71 301.3 L493.32 308 L496.93 289.2 L500.54 314.8 L504.15 316.2 L507.75 319.2 L511.36 306.2 L514.97 322.3 L518.58 321.1 L522.19 326.9 L525.8 329.7 L529.41 331.8 L533.01 332.5 L536.62 333.6 L540.23 338.4 L543.84 335 L547.45 342.4 L551.06 340.9 L554.67 344.9 L558.27 346.6 L561.88 350.1 L565.49 354 L569.1 356.2 L572.71 358.7 L576.32 362.3 L579.92 364.5 L583.53 365.3 L587.14 369.6 L590.75 370.8 L594.36 373.8" fill="none" stroke="#1f77b4" stroke-width="1.75" stroke-linejoin="round" stroke-linecap="round"/>
<rect x="0.55" y="80.55" width="194.3" height="142.9" fill="none" stroke="#262626" stroke-width="1.15"/>
<rect x="204.5" y="80.55" width="194.3" height="142.9" fill="none" stroke="#262626" stroke-width="1.15"/>
<rect x="408.5" y="80.55" width="194.7" height="142.9" fill="none" stroke="#262626" stroke-width="1.15"/>
<rect x="0.55" y="237.5" width="194.3" height="142.95" fill="none" stroke="#262626" stroke-width="1.15"/>
<rect x="204.5" y="237.5" width="194.3" height="142.95" fill="none" stroke="#262626" stroke-width="1.15"/>
<rect x="408.5" y="237.5" width="194.7" height="142.95" fill="none" stroke="#262626" stroke-width="1.15"/>
<line x1="9.09" y1="380.45" x2="9.09" y2="383.9" stroke="#262626" stroke-width="1.2"/>
<text x="9.09" y="393.7" class="tk" text-anchor="middle" textLength="4.75" lengthAdjust="spacingAndGlyphs">0</text>
<line x1="45.18" y1="380.45" x2="45.18" y2="383.9" stroke="#262626" stroke-width="1.2"/>
<text x="45.18" y="393.7" class="tk" text-anchor="middle" textLength="9.5" lengthAdjust="spacingAndGlyphs">10</text>
<line x1="81.26" y1="380.45" x2="81.26" y2="383.9" stroke="#262626" stroke-width="1.2"/>
<text x="81.26" y="393.7" class="tk" text-anchor="middle" textLength="9.5" lengthAdjust="spacingAndGlyphs">20</text>
<line x1="117.35" y1="380.45" x2="117.35" y2="383.9" stroke="#262626" stroke-width="1.2"/>
<text x="117.35" y="393.7" class="tk" text-anchor="middle" textLength="9.5" lengthAdjust="spacingAndGlyphs">30</text>
<line x1="153.43" y1="380.45" x2="153.43" y2="383.9" stroke="#262626" stroke-width="1.2"/>
<text x="153.43" y="393.7" class="tk" text-anchor="middle" textLength="9.5" lengthAdjust="spacingAndGlyphs">40</text>
<line x1="189.52" y1="380.45" x2="189.52" y2="383.9" stroke="#262626" stroke-width="1.2"/>
<text x="189.52" y="393.7" class="tk" text-anchor="middle" textLength="9.5" lengthAdjust="spacingAndGlyphs">50</text>
<text x="97.85" y="408.9" class="lab" text-anchor="middle">X variables (causal ordering)</text>
<line x1="213.34" y1="380.45" x2="213.34" y2="383.9" stroke="#262626" stroke-width="1.2"/>
<text x="213.34" y="393.7" class="tk" text-anchor="middle" textLength="4.75" lengthAdjust="spacingAndGlyphs">0</text>
<line x1="249.43" y1="380.45" x2="249.43" y2="383.9" stroke="#262626" stroke-width="1.2"/>
<text x="249.43" y="393.7" class="tk" text-anchor="middle" textLength="9.5" lengthAdjust="spacingAndGlyphs">10</text>
<line x1="285.51" y1="380.45" x2="285.51" y2="383.9" stroke="#262626" stroke-width="1.2"/>
<text x="285.51" y="393.7" class="tk" text-anchor="middle" textLength="9.5" lengthAdjust="spacingAndGlyphs">20</text>
<line x1="321.6" y1="380.45" x2="321.6" y2="383.9" stroke="#262626" stroke-width="1.2"/>
<text x="321.6" y="393.7" class="tk" text-anchor="middle" textLength="9.5" lengthAdjust="spacingAndGlyphs">30</text>
<line x1="357.68" y1="380.45" x2="357.68" y2="383.9" stroke="#262626" stroke-width="1.2"/>
<text x="357.68" y="393.7" class="tk" text-anchor="middle" textLength="9.5" lengthAdjust="spacingAndGlyphs">40</text>
<line x1="393.77" y1="380.45" x2="393.77" y2="383.9" stroke="#262626" stroke-width="1.2"/>
<text x="393.77" y="393.7" class="tk" text-anchor="middle" textLength="9.5" lengthAdjust="spacingAndGlyphs">50</text>
<text x="302.1" y="408.9" class="lab" text-anchor="middle">X variables (causal ordering)</text>
<line x1="417.54" y1="380.45" x2="417.54" y2="383.9" stroke="#262626" stroke-width="1.2"/>
<text x="417.54" y="393.7" class="tk" text-anchor="middle" textLength="4.75" lengthAdjust="spacingAndGlyphs">0</text>
<line x1="453.63" y1="380.45" x2="453.63" y2="383.9" stroke="#262626" stroke-width="1.2"/>
<text x="453.63" y="393.7" class="tk" text-anchor="middle" textLength="9.5" lengthAdjust="spacingAndGlyphs">10</text>
<line x1="489.71" y1="380.45" x2="489.71" y2="383.9" stroke="#262626" stroke-width="1.2"/>
<text x="489.71" y="393.7" class="tk" text-anchor="middle" textLength="9.5" lengthAdjust="spacingAndGlyphs">20</text>
<line x1="525.8" y1="380.45" x2="525.8" y2="383.9" stroke="#262626" stroke-width="1.2"/>
<text x="525.8" y="393.7" class="tk" text-anchor="middle" textLength="9.5" lengthAdjust="spacingAndGlyphs">30</text>
<line x1="561.88" y1="380.45" x2="561.88" y2="383.9" stroke="#262626" stroke-width="1.2"/>
<text x="561.88" y="393.7" class="tk" text-anchor="middle" textLength="9.5" lengthAdjust="spacingAndGlyphs">40</text>
<line x1="597.97" y1="380.45" x2="597.97" y2="383.9" stroke="#262626" stroke-width="1.2"/>
<text x="597.97" y="393.7" class="tk" text-anchor="middle" textLength="9.5" lengthAdjust="spacingAndGlyphs">50</text>
<text x="506.3" y="408.9" class="lab" text-anchor="middle">X variables (causal ordering)</text>
<line x1="603.4" y1="87.5" x2="606.9" y2="87.5" stroke="#262626" stroke-width="1.2"/>
<text x="609.9" y="91.6" class="tk" textLength="12.2" lengthAdjust="spacingAndGlyphs">0.8</text>
<line x1="603.4" y1="135.55" x2="606.9" y2="135.55" stroke="#262626" stroke-width="1.2"/>
<text x="609.9" y="139.65" class="tk" textLength="12.2" lengthAdjust="spacingAndGlyphs">0.6</text>
<line x1="603.4" y1="183.6" x2="606.9" y2="183.6" stroke="#262626" stroke-width="1.2"/>
<text x="609.9" y="187.7" class="tk" textLength="12.2" lengthAdjust="spacingAndGlyphs">0.4</text>
<line x1="603.4" y1="245.8" x2="606.9" y2="245.8" stroke="#262626" stroke-width="1.2"/>
<text x="610.6" y="249.9" class="tk" textLength="8.6" lengthAdjust="spacingAndGlyphs">10</text><text transform="translate(619.9 246) scale(1.001)" class="sup">5</text>
<line x1="603.4" y1="297.0" x2="606.9" y2="297.0" stroke="#262626" stroke-width="1.2"/>
<text x="610.6" y="301.1" class="tk" textLength="8.6" lengthAdjust="spacingAndGlyphs">10</text><text transform="translate(619.9 297.2) scale(1.001)" class="sup">3</text>
<line x1="603.4" y1="348.0" x2="606.9" y2="348.0" stroke="#262626" stroke-width="1.2"/>
<text x="610.6" y="352.1" class="tk" textLength="8.6" lengthAdjust="spacingAndGlyphs">10</text><text transform="translate(619.9 348.2) scale(1.001)" class="sup">1</text>
<text x="97.6" y="75.4" class="ttl" text-anchor="middle" textLength="118.8" lengthAdjust="spacingAndGlyphs">Equal error variance</text>
<text x="302.35" y="75.4" class="ttl" text-anchor="middle" textLength="143.8" lengthAdjust="spacingAndGlyphs">Equal marginal variance</text>
<text x="506.6" y="75.4" class="ttl" text-anchor="middle" textLength="176.4" lengthAdjust="spacingAndGlyphs">Decreasing marginal variance</text>
<text transform="translate(635.2 151.55) rotate(-90)" class="lab" text-anchor="middle" textLength="157.4" lengthAdjust="spacingAndGlyphs">AUC for causal link prediction</text>
<text transform="translate(635.2 308.35) rotate(-90)" class="lab" text-anchor="middle" textLength="95.3" lengthAdjust="spacingAndGlyphs">Marginal variance</text>
<rect x="177.8" y="1.8" width="283" height="36.8" rx="3" fill="#fff" stroke="#d9d9d9" stroke-width="1"/>
<text x="320.45" y="13.6" class="lt" text-anchor="middle" textLength="194.8" lengthAdjust="spacingAndGlyphs">Compare edge scoring by absolute values of</text>
<rect x="182.3" y="22.3" width="25.6" height="9.3" fill="#3274a1" stroke="#3d3d3d" stroke-width="0.8"/>
<text x="217.55" y="30.65" class="ll" textLength="117.2" lengthAdjust="spacingAndGlyphs">Regression coefficients</text>
<rect x="361.7" y="22.3" width="25.6" height="9.3" fill="#e1812c" stroke="#3d3d3d" stroke-width="0.8"/>
<text x="396.6" y="30.65" class="ll" textLength="55.8" lengthAdjust="spacingAndGlyphs">T-statistics</text>
</svg>
</body></html>
